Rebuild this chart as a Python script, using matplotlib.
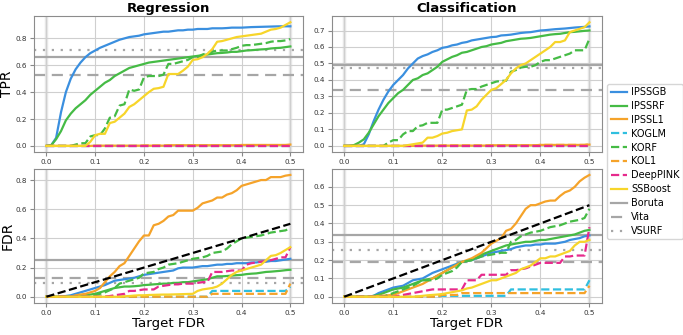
import numpy as np
import matplotlib
matplotlib.use("Agg")
import matplotlib.pyplot as plt

# target FDR grid, 0.00 .. 0.50
target_fdr = np.round(np.arange(0, 0.501, 0.01), 2)

methods = ["IPSSGB", "IPSSRF", "IPSSL1", "KOGLM", "KORF", "KOL1", "DeepPINK", "SSBoost"]

# ---------------- Regression, TPR ----------------
reg_tpr_ipssgb = [0, 0.005, 0.06, 0.25, 0.40, 0.50, 0.57, 0.62, 0.66, 0.69, 0.71, 0.73, 0.745, 0.76, 0.775, 0.79, 0.80, 0.81, 0.815, 0.82,
                  0.83, 0.835, 0.84, 0.845, 0.85, 0.85, 0.855, 0.86, 0.86, 0.865, 0.865, 0.87, 0.87, 0.87, 0.875, 0.875, 0.875, 0.877, 0.88, 0.88,
                  0.88, 0.882, 0.884, 0.885, 0.886, 0.887, 0.888, 0.889, 0.89, 0.89, 0.89]
reg_tpr_ipssrf = [0, 0.005, 0.05, 0.11, 0.19, 0.24, 0.28, 0.31, 0.34, 0.38, 0.41, 0.44, 0.47, 0.49, 0.52, 0.54, 0.56, 0.58, 0.59, 0.60,
                  0.61, 0.62, 0.625, 0.63, 0.635, 0.64, 0.645, 0.65, 0.655, 0.66, 0.665, 0.67, 0.675, 0.68, 0.685, 0.69, 0.692, 0.695, 0.70, 0.70,
                  0.705, 0.71, 0.712, 0.715, 0.718, 0.72, 0.725, 0.728, 0.73, 0.735, 0.74]
reg_tpr_ipssl1 = [0] * 10 + [0.002] * 15 + [0.005] * 15 + [0.007] * 10 + [0.01]
reg_tpr_koglm = [0] * 51
reg_tpr_korf = [0, 0, 0, 0, 0, 0, 0.01, 0.02, 0.02, 0.07, 0.08, 0.08, 0.13, 0.21, 0.22, 0.30, 0.31, 0.42, 0.41, 0.42,
                0.51, 0.52, 0.52, 0.52, 0.53, 0.61, 0.61, 0.62, 0.63, 0.64, 0.66, 0.66, 0.68, 0.69, 0.70, 0.71, 0.71, 0.71, 0.72, 0.73,
                0.745, 0.75, 0.75, 0.755, 0.76, 0.765, 0.775, 0.78, 0.78, 0.785, 0.795]
reg_tpr_kol1 = [0] * 20 + [0.003] * 20 + [0.006] * 11
reg_tpr_deeppink = [0] * 51
reg_tpr_ssboost = [0, 0, 0, 0, 0, 0, 0, 0, 0, 0.03, 0.08, 0.09, 0.09, 0.17, 0.18, 0.21, 0.24, 0.29, 0.31, 0.34,
                   0.37, 0.40, 0.425, 0.43, 0.44, 0.535, 0.535, 0.535, 0.56, 0.59, 0.64, 0.645, 0.66, 0.685, 0.72, 0.775, 0.78, 0.79, 0.80, 0.81,
                   0.815, 0.82, 0.825, 0.83, 0.835, 0.85, 0.865, 0.87, 0.88, 0.90, 0.92]

# ---------------- Classification, TPR ----------------
cls_tpr_ipssgb = [0, 0, 0, 0, 0.01, 0.07, 0.15, 0.22, 0.28, 0.33, 0.37, 0.40, 0.43, 0.47, 0.50, 0.53, 0.545, 0.555, 0.57, 0.58,
                  0.595, 0.60, 0.61, 0.615, 0.625, 0.63, 0.64, 0.645, 0.65, 0.655, 0.66, 0.662, 0.67, 0.672, 0.675, 0.68, 0.685, 0.688, 0.69, 0.695,
                  0.70, 0.702, 0.705, 0.708, 0.71, 0.712, 0.715, 0.718, 0.72, 0.722, 0.725]
cls_tpr_ipssrf = [0, 0, 0.005, 0.02, 0.04, 0.08, 0.13, 0.18, 0.22, 0.26, 0.29, 0.32, 0.34, 0.37, 0.40, 0.41, 0.43, 0.44, 0.46, 0.48,
                  0.51, 0.525, 0.54, 0.55, 0.565, 0.57, 0.58, 0.59, 0.60, 0.605, 0.615, 0.62, 0.625, 0.635, 0.64, 0.645, 0.65, 0.652, 0.655, 0.66,
                  0.665, 0.67, 0.675, 0.678, 0.68, 0.685, 0.69, 0.692, 0.695, 0.698, 0.70]
cls_tpr_ipssl1 = [0] * 15 + [0.002] * 15 + [0.004] * 10 + [0.006] * 10 + [0.008]
cls_tpr_koglm = [0] * 51
cls_tpr_korf = [0, 0, 0, 0, 0, 0, 0, 0, 0, 0.02, 0.035, 0.035, 0.07, 0.09, 0.09, 0.12, 0.125, 0.14, 0.14, 0.14,
                0.22, 0.22, 0.23, 0.24, 0.25, 0.34, 0.345, 0.345, 0.36, 0.37, 0.38, 0.39, 0.395, 0.395, 0.45, 0.46, 0.475, 0.48, 0.48, 0.49,
                0.51, 0.52, 0.52, 0.53, 0.54, 0.55, 0.56, 0.58, 0.58, 0.58, 0.65]
cls_tpr_kol1 = [0] * 20 + [0.003] * 20 + [0.006] * 10 + [0.01]
cls_tpr_deeppink = [0] * 51
cls_tpr_ssboost = [0, 0, 0, 0, 0, 0, 0, 0, 0, 0, 0, 0, 0, 0.005, 0.01, 0.015, 0.02, 0.05, 0.05, 0.06,
                   0.075, 0.08, 0.09, 0.095, 0.10, 0.215, 0.22, 0.24, 0.28, 0.31, 0.34, 0.35, 0.375, 0.40, 0.44, 0.47, 0.49, 0.50, 0.52, 0.54,
                   0.56, 0.58, 0.60, 0.63, 0.63, 0.64, 0.69, 0.70, 0.71, 0.72, 0.75]

# ---------------- Regression, FDR ----------------
reg_fdr_ipssgb = [0, 0, 0, 0, 0.005, 0.01, 0.02, 0.03, 0.04, 0.05, 0.06, 0.07, 0.08, 0.095, 0.11, 0.115, 0.12, 0.125, 0.13, 0.14,
                  0.15, 0.155, 0.16, 0.165, 0.17, 0.175, 0.18, 0.195, 0.20, 0.20, 0.20, 0.205, 0.21, 0.21, 0.215, 0.22, 0.22, 0.225, 0.225, 0.23,
                  0.23, 0.23, 0.235, 0.235, 0.24, 0.24, 0.245, 0.245, 0.25, 0.255, 0.26]
reg_fdr_ipssrf = [0, 0, 0, 0, 0, 0, 0.005, 0.01, 0.015, 0.015, 0.02, 0.03, 0.04, 0.05, 0.06, 0.065, 0.07, 0.07, 0.072, 0.075,
                  0.08, 0.082, 0.085, 0.087, 0.09, 0.09, 0.095, 0.095, 0.10, 0.10, 0.105, 0.11, 0.115, 0.12, 0.13, 0.14, 0.14, 0.142, 0.145, 0.148,
                  0.15, 0.155, 0.158, 0.16, 0.165, 0.17, 0.172, 0.175, 0.178, 0.182, 0.185]
reg_fdr_ipssl1 = [0, 0, 0, 0, 0, 0, 0.01, 0.015, 0.02, 0.03, 0.04, 0.06, 0.10, 0.14, 0.17, 0.21, 0.23, 0.28, 0.33, 0.38,
                  0.42, 0.42, 0.49, 0.50, 0.52, 0.55, 0.56, 0.59, 0.59, 0.59, 0.59, 0.61, 0.64, 0.65, 0.66, 0.68, 0.68, 0.70, 0.71, 0.73,
                  0.76, 0.77, 0.78, 0.79, 0.80, 0.80, 0.82, 0.82, 0.82, 0.83, 0.835]
reg_fdr_koglm = [0] * 34 + [0.04] * 16 + [0.07]
reg_fdr_korf = [0, 0, 0, 0, 0, 0, 0, 0, 0, 0.005, 0.01, 0.02, 0.03, 0.045, 0.06, 0.09, 0.10, 0.11, 0.12, 0.13,
                0.16, 0.165, 0.17, 0.19, 0.20, 0.22, 0.225, 0.23, 0.24, 0.25, 0.26, 0.265, 0.27, 0.28, 0.30, 0.305, 0.31, 0.33, 0.36, 0.38,
                0.40, 0.405, 0.41, 0.415, 0.42, 0.43, 0.44, 0.445, 0.45, 0.455, 0.47]
reg_fdr_kol1 = [0] * 34 + [0.02] * 16 + [0.09]
reg_fdr_deeppink = [0, 0, 0, 0, 0, 0, 0, 0, 0, 0, 0, 0, 0, 0.005, 0.01, 0.015, 0.02, 0.04, 0.04, 0.045,
                    0.05, 0.05, 0.05, 0.07, 0.075, 0.08, 0.085, 0.085, 0.09, 0.09, 0.09, 0.095, 0.10, 0.10, 0.17, 0.17, 0.17, 0.175, 0.18, 0.18,
                    0.18, 0.22, 0.23, 0.235, 0.24, 0.245, 0.25, 0.26, 0.27, 0.27, 0.34]
reg_fdr_ssboost = [0] * 16 + [0.003, 0.005, 0.008, 0.01,
                   0.01, 0.012, 0.013, 0.014, 0.015, 0.015, 0.016, 0.017, 0.018, 0.019, 0.02, 0.04, 0.05, 0.055, 0.06, 0.07, 0.09, 0.12, 0.15, 0.17,
                   0.18, 0.19, 0.20, 0.21, 0.22, 0.25, 0.28, 0.285, 0.30, 0.32, 0.34]

# ---------------- Classification, FDR ----------------
cls_fdr_ipssgb = [0, 0, 0, 0, 0, 0, 0.005, 0.02, 0.03, 0.04, 0.05, 0.055, 0.06, 0.075, 0.09, 0.095, 0.10, 0.115, 0.13, 0.14,
                  0.15, 0.16, 0.17, 0.18, 0.19, 0.195, 0.20, 0.21, 0.22, 0.23, 0.24, 0.245, 0.25, 0.255, 0.26, 0.27, 0.275, 0.28, 0.28, 0.285,
                  0.285, 0.29, 0.29, 0.29, 0.295, 0.30, 0.31, 0.315, 0.32, 0.33, 0.335]
cls_fdr_ipssrf = [0, 0, 0, 0, 0, 0, 0.005, 0.01, 0.02, 0.03, 0.04, 0.045, 0.05, 0.06, 0.07, 0.08, 0.09, 0.095, 0.10, 0.115,
                  0.13, 0.145, 0.16, 0.175, 0.19, 0.195, 0.20, 0.215, 0.23, 0.24, 0.25, 0.26, 0.27, 0.28, 0.285, 0.29, 0.295, 0.30, 0.30, 0.305,
                  0.31, 0.31, 0.315, 0.32, 0.325, 0.33, 0.335, 0.34, 0.35, 0.36, 0.365]
cls_fdr_ipssl1 = [0, 0, 0, 0, 0, 0, 0.002, 0.004, 0.006, 0.008, 0.01, 0.02, 0.03, 0.04, 0.05, 0.06, 0.07, 0.085, 0.10, 0.115,
                  0.13, 0.145, 0.16, 0.175, 0.19, 0.20, 0.21, 0.225, 0.24, 0.265, 0.29, 0.305, 0.32, 0.36, 0.37, 0.40, 0.44, 0.48, 0.50, 0.50,
                  0.51, 0.52, 0.525, 0.525, 0.55, 0.57, 0.58, 0.60, 0.63, 0.65, 0.665]
cls_fdr_koglm = [0] * 20 + [0.005] * 14 + [0.04] * 16 + [0.09]
cls_fdr_korf = [0, 0, 0, 0, 0, 0, 0, 0, 0, 0.01, 0.02, 0.03, 0.04, 0.05, 0.06, 0.075, 0.09, 0.09, 0.09, 0.10,
                0.12, 0.13, 0.14, 0.16, 0.19, 0.195, 0.20, 0.21, 0.22, 0.225, 0.23, 0.235, 0.24, 0.24, 0.30, 0.31, 0.33, 0.34, 0.35, 0.355,
                0.36, 0.37, 0.38, 0.385, 0.39, 0.40, 0.41, 0.415, 0.42, 0.43, 0.48]
cls_fdr_kol1 = [0] * 20 + [0.01] * 4 + [0.02] * 26 + [0.06]
cls_fdr_deeppink = [0] * 11 + [0.005, 0.01, 0.015, 0.02, 0.025, 0.03, 0.035, 0.04, 0.04,
                    0.04, 0.04, 0.04, 0.04, 0.04, 0.09, 0.09, 0.09, 0.12, 0.12, 0.12, 0.12, 0.12, 0.12, 0.145, 0.145, 0.15, 0.155, 0.165, 0.175,
                    0.185, 0.185, 0.185, 0.185, 0.185, 0.22, 0.22, 0.225, 0.225, 0.225, 0.38]
cls_fdr_ssboost = [0] * 15 + [0.002, 0.005, 0.008, 0.01, 0.012,
                   0.015, 0.02, 0.025, 0.03, 0.035, 0.045, 0.05, 0.06, 0.07, 0.08, 0.09, 0.09, 0.10, 0.11, 0.12, 0.13, 0.15, 0.16, 0.17, 0.19,
                   0.21, 0.21, 0.22, 0.22, 0.23, 0.24, 0.25, 0.28, 0.30, 0.30, 0.31]

# horizontal reference methods (Boruta, Vita, VSURF)
reg_tpr_flat = [0.66, 0.525, 0.71]
cls_tpr_flat = [0.49, 0.34, 0.475]
reg_fdr_flat = [0.25, 0.13, 0.095]
cls_fdr_flat = [0.335, 0.19, 0.255]

colors = {"IPSSGB": "#3a8fdf", "IPSSRF": "#45bb45", "IPSSL1": "#f5a32a", "KOGLM": "#2fbfdf",
          "KORF": "#45bb45", "KOL1": "#f5a32a", "DeepPINK": "#e62a8c", "SSBoost": "#f7d52a"}
styles = {"IPSSGB": "-", "IPSSRF": "-", "IPSSL1": "-", "KOGLM": "--",
          "KORF": "--", "KOL1": "--", "DeepPINK": "--", "SSBoost": "-"}
flat_names = ["Boruta", "Vita", "VSURF"]
flat_styles = ["-", (0, (5, 3)), (0, (1, 3))]

panels = [
    ("reg_tpr", [reg_tpr_ipssgb, reg_tpr_ipssrf, reg_tpr_ipssl1, reg_tpr_koglm, reg_tpr_korf, reg_tpr_kol1, reg_tpr_deeppink, reg_tpr_ssboost], reg_tpr_flat),
    ("cls_tpr", [cls_tpr_ipssgb, cls_tpr_ipssrf, cls_tpr_ipssl1, cls_tpr_koglm, cls_tpr_korf, cls_tpr_kol1, cls_tpr_deeppink, cls_tpr_ssboost], cls_tpr_flat),
    ("reg_fdr", [reg_fdr_ipssgb, reg_fdr_ipssrf, reg_fdr_ipssl1, reg_fdr_koglm, reg_fdr_korf, reg_fdr_kol1, reg_fdr_deeppink, reg_fdr_ssboost], reg_fdr_flat),
    ("cls_fdr", [cls_fdr_ipssgb, cls_fdr_ipssrf, cls_fdr_ipssl1, cls_fdr_koglm, cls_fdr_korf, cls_fdr_kol1, cls_fdr_deeppink, cls_fdr_ssboost], cls_fdr_flat),
]

fig = plt.figure(figsize=(6.83, 3.35), dpi=100)
rects = [[0.050, 0.546, 0.393, 0.406], [0.486, 0.546, 0.395, 0.406],
         [0.050, 0.096, 0.393, 0.400], [0.486, 0.096, 0.395, 0.400]]

line_handles = []
flat_handles = []
for k, (name, series, flats) in enumerate(panels):
    ax = fig.add_axes(rects[k])
    ax.grid(True, color="#cfcfcf", linewidth=0.8)
    ax.set_axisbelow(True)
    for xv in (target_fdr[0], target_fdr[-1]):
        ax.axvline(xv, color="#e8e8e8", linewidth=2.5, zorder=0)
    for j, f in enumerate(flats):
        h = ax.axhline(f, color="#a6a6a6", linestyle=flat_styles[j], linewidth=1.6)
        if k == 0:
            flat_handles.append(h)
    if name.endswith("fdr"):
        ax.plot(target_fdr, target_fdr, color="black", linestyle="--", linewidth=1.6, zorder=5)
    for m, y in zip(methods, series):
        h, = ax.plot(target_fdr, y, color=colors[m], linestyle=styles[m], linewidth=1.6)
        if k == 0:
            line_handles.append(h)
    ax.set_xticks([0.0, 0.1, 0.2, 0.3, 0.4, 0.5])
    ax.tick_params(labelsize=5.2, colors="#333333", length=3, color="#888888", pad=2)
    for s in ax.spines.values():
        s.set_color("#8c8c8c")
    if k == 0:
        ax.set_title("Regression", fontsize=9.5, fontweight="bold", pad=3)
        ax.set_ylabel("TPR", fontsize=10, labelpad=1)
    if k == 1:
        ax.set_title("Classification", fontsize=9.5, fontweight="bold", pad=3)
    if k == 2:
        ax.set_ylabel("FDR", fontsize=10, labelpad=1)
    if k >= 2:
        ax.set_xlabel("Target FDR", fontsize=9.6, labelpad=1)

fig.legend(line_handles + flat_handles, methods + flat_names, loc="center left",
           bbox_to_anchor=(0.882, 0.518), fontsize=7.0, handlelength=1.7, handletextpad=0.4,
           frameon=True, edgecolor="#cccccc", borderpad=0.35, labelspacing=0.4,
           fancybox=True)

fig.savefig("out.png", dpi=100)
